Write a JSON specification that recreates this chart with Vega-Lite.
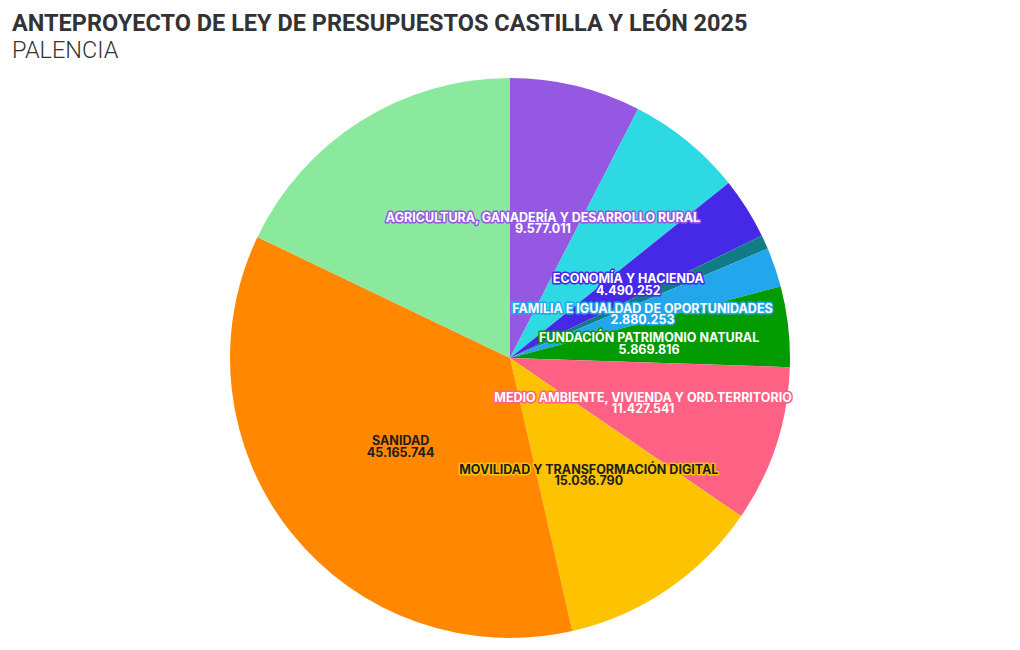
{
  "$schema": "https://vega.github.io/schema/vega-lite/v6.json",
  "autosize": {"type": "fit", "contains": "padding"},
  "width": 1020,
  "height": 650,
  "padding": {"top": 12, "left": 12, "right": 12, "bottom": 12},
  "background": "white",
  "config": {
    "view": {"stroke": null},
    "locale": {"number": {"decimal": ",", "thousands": ".", "grouping": [3], "currency": ["", " €"]}}
  },
  "title": {
    "text": "ANTEPROYECTO DE LEY DE PRESUPUESTOS CASTILLA Y LEÓN 2025",
    "subtitle": "PALENCIA",
    "anchor": "start",
    "frame": "bounds",
    "font": "Roboto",
    "fontSize": 23.5,
    "fontWeight": "bold",
    "color": "#333333",
    "subtitleFont": "Roboto",
    "subtitleFontSize": 23.5,
    "subtitleFontWeight": 300,
    "subtitleColor": "#333333",
    "subtitlePadding": 3,
    "offset": 16
  },
  "data": {
    "values": [
      {"name": "AGRICULTURA, GANADERÍA Y DESARROLLO RURAL", "value": 9577011},
      {"name": "CULTURA, TURISMO Y DEPORTE", "value": 8470000},
      {"name": "ECONOMÍA Y HACIENDA", "value": 4490252},
      {"name": "EDUCACIÓN", "value": 1020000},
      {"name": "FAMILIA E IGUALDAD DE OPORTUNIDADES", "value": 2880253},
      {"name": "FUNDACIÓN PATRIMONIO NATURAL", "value": 5869816},
      {"name": "MEDIO AMBIENTE, VIVIENDA Y ORD.TERRITORIO", "value": 11427541},
      {"name": "MOVILIDAD Y TRANSFORMACIÓN DIGITAL", "value": 15036790},
      {"name": "SANIDAD", "value": 45165744},
      {"name": "SOMACYL", "value": 22650000}
    ]
  },
  "transform": [
    {"calculate": "[datum.name, format(datum.value, ',')]", "as": "label"}
  ],
  "encoding": {
    "theta": {"field": "value", "type": "quantitative", "stack": true}
  },
  "layer": [
    {
      "mark": {"type": "arc", "stroke": null},
      "encoding": {
        "color": {
          "field": "name",
          "type": "nominal",
          "legend": null,
          "scale": {
            "domain": ["AGRICULTURA, GANADERÍA Y DESARROLLO RURAL", "CULTURA, TURISMO Y DEPORTE", "ECONOMÍA Y HACIENDA", "EDUCACIÓN", "FAMILIA E IGUALDAD DE OPORTUNIDADES", "FUNDACIÓN PATRIMONIO NATURAL", "MEDIO AMBIENTE, VIVIENDA Y ORD.TERRITORIO", "MOVILIDAD Y TRANSFORMACIÓN DIGITAL", "SANIDAD", "SOMACYL"],
            "range": ["#9558E2", "#2DD9E3", "#4629E6", "#117C85", "#22A6EC", "#029B02", "#FE6183", "#FEC300", "#FF8800", "#8AE99C"]
          }
        }
      }
    },
    {
      "mark": {"type": "text", "radius": 140, "dy": -4, "font": "Inter", "fontSize": 12.5, "fontWeight": "bold", "lineHeight": 11.5, "strokeWidth": 3, "strokeJoin": "round", "baseline": "middle"},
      "encoding": {
        "detail": {"field": "name"},
        "text": {"field": "label"},
        "stroke": {
          "field": "name",
          "type": "nominal",
          "legend": null,
          "scale": {
            "domain": ["AGRICULTURA, GANADERÍA Y DESARROLLO RURAL", "CULTURA, TURISMO Y DEPORTE", "ECONOMÍA Y HACIENDA", "EDUCACIÓN", "FAMILIA E IGUALDAD DE OPORTUNIDADES", "FUNDACIÓN PATRIMONIO NATURAL", "MEDIO AMBIENTE, VIVIENDA Y ORD.TERRITORIO", "MOVILIDAD Y TRANSFORMACIÓN DIGITAL", "SANIDAD", "SOMACYL"],
            "range": ["#9558E2", "#2DD9E3", "#4629E6", "#117C85", "#22A6EC", "#029B02", "#FE6183", "#FEC300", "#FF8800", "#8AE99C"]
          }
        },
        "opacity": {"condition": {"test": "datum.name === 'CULTURA, TURISMO Y DEPORTE' || datum.name === 'EDUCACIÓN' || datum.name === 'SOMACYL'", "value": 0}, "value": 1}
      }
    },
    {
      "mark": {"type": "text", "radius": 140, "dy": -4, "font": "Inter", "fontSize": 12.5, "fontWeight": "bold", "lineHeight": 11.5, "baseline": "middle"},
      "encoding": {
        "detail": {"field": "name"},
        "text": {"field": "label"},
        "color": {"condition": {"test": "datum.name === 'SANIDAD' || datum.name === 'MOVILIDAD Y TRANSFORMACIÓN DIGITAL'", "value": "#1d1d1d"}, "value": "#ffffff"},
        "opacity": {"condition": {"test": "datum.name === 'CULTURA, TURISMO Y DEPORTE' || datum.name === 'EDUCACIÓN' || datum.name === 'SOMACYL'", "value": 0}, "value": 1}
      }
    }
  ]
}
